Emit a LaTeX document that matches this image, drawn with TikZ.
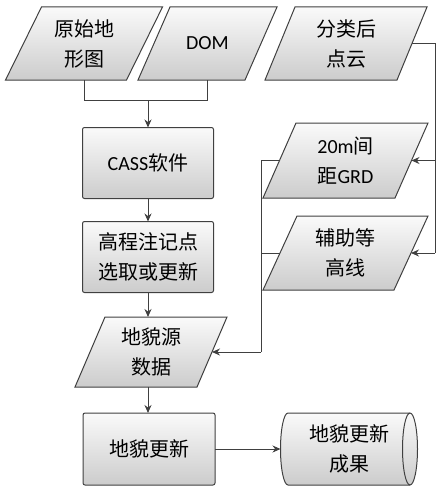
\documentclass[tikz,border=0pt]{standalone}
\usepackage{fontspec}
\setmainfont{Carlito}
\newfontfamily\cjk{Noto Sans CJK SC}
\usetikzlibrary{arrows.meta,backgrounds}
\newcommand\parashape[2]{%
  \path[shapefill] ([xshift=#2]#1.north west) -- ([xshift=#2]#1.north east)
    -- ([xshift=-#2]#1.south east) -- ([xshift=-#2]#1.south west) -- cycle;}
\begin{document}
\begin{tikzpicture}[x=1pt,y=-1pt,
  shapefill/.style={draw=black!75, line width=1pt, top color=gray!4, bottom color=gray!40},
  txt/.style={font=\fontsize{20}{30}\selectfont, align=center, inner sep=0pt, outer sep=0pt},
  para/.style={txt, rectangle},
  rbox/.style={txt, shapefill, rectangle, rounded corners=2pt, minimum width=131pt, minimum height=71pt},
  conn/.style={draw=black!75, line width=1pt},
  arr/.style={conn, -{Stealth[length=8pt,width=7pt]}}]
\useasboundingbox (0,0) rectangle (436,487);

\node[para, minimum width=121pt, minimum height=73pt] (p1) at (84,43.5) {{\cjk 原始地}\\{\cjk 形图}};
\node[para, minimum width=107pt, minimum height=73pt] (p2) at (207.5,43.5) {DOM};
\node[para, minimum width=132pt, minimum height=73pt] (p3) at (346,43.5) {{\cjk 分类后}\\{\cjk 点云}};
\node[para, minimum width=132pt, minimum height=75pt] (grd) at (345.5,160.5) {20m{\cjk 间}\\{\cjk 距}GRD};
\node[para, minimum width=131pt, minimum height=74pt] (aux) at (345.5,253) {{\cjk 辅助等}\\{\cjk 高线}};
\node[rbox] (cass) at (148,163) {CASS{\cjk 软件}};
\node[rbox] (elev) at (148,257) {{\cjk 高程注记点}\\{\cjk 选取或更新}};
\node[para, minimum width=122pt, minimum height=70pt] (src) at (151,352) {{\cjk 地貌源}\\{\cjk 数据}};
\node[rbox, minimum width=132pt, minimum height=72pt] (upd) at (149,449) {{\cjk 地貌更新}};
\node[para, minimum width=122pt, minimum height=72pt] (res) at (349,449) {{\cjk 地貌更新}\\{\cjk 成果}};

\begin{pgfonlayer}{background}
  \parashape{p1}{18pt}
  \parashape{p2}{16pt}
  \parashape{p3}{15pt}
  \parashape{grd}{16.5pt}
  \parashape{aux}{17pt}
  \parashape{src}{15pt}
  \path[shapefill] (res.north west) -- (res.north east)
    arc[start angle=90, end angle=-90, x radius=7.5pt, y radius=36pt]
    -- (res.south west)
    arc[start angle=270, end angle=90, x radius=7.5pt, y radius=36pt] -- cycle;
  \draw[conn] (res.north east)
    arc[start angle=90, end angle=270, x radius=7.5pt, y radius=36pt];
\end{pgfonlayer}

\coordinate (j) at (148,100);
\draw[conn] (p1.south) |- (j);
\draw[conn] (p2.south) |- (j);
\draw[arr] (j) -- (cass.north);
\draw[arr] (cass) -- (elev);
\draw[arr] (elev.south) -- (elev.south |- src.north);
\draw[arr] (src.south -| elev.south) -- (upd.north -| elev.south);
\draw[arr] (upd) -- ([xshift=-7.5pt]res.west);

\coordinate (rb) at (435,253);
\coordinate (rg) at (435,160.5);
\draw[conn] (p3.east) -| (rb);
\draw[arr] (rg) -- (grd.east);
\draw[arr] (rb) -- (aux.east);

\coordinate (lb) at (261,352);
\draw[conn] (grd.west) -| (lb);
\draw[conn] (aux.west) -- (aux.west -| lb);
\draw[arr] (lb) -- (src.east);
\end{tikzpicture}
\end{document}
